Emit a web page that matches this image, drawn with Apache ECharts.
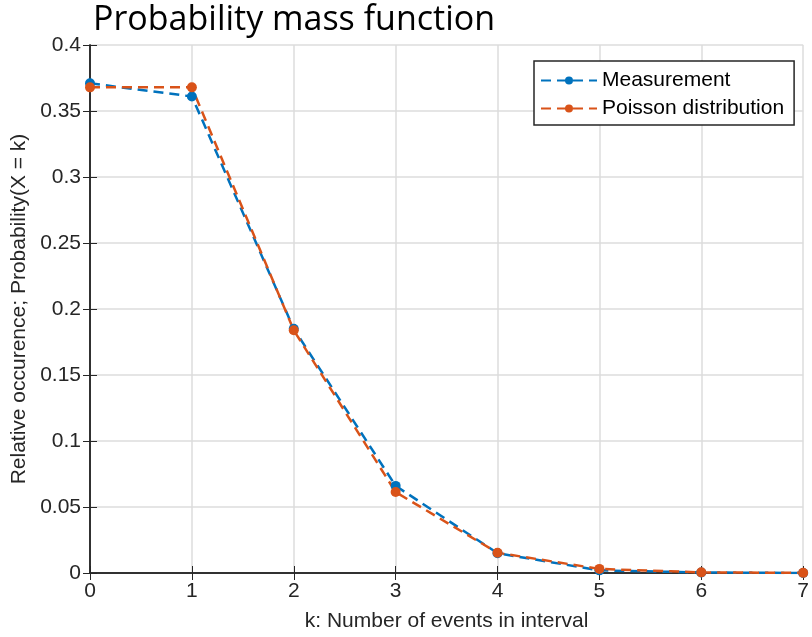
<!DOCTYPE html>
<html>
<head>
<meta charset="utf-8">
<script src="https://cdn.jsdelivr.net/npm/echarts@6/dist/echarts.min.js"></script>
<style>
  html, body { margin: 0; padding: 0; background: #fff; }
  #chart { width: 812px; height: 637px; }
</style>
</head>
<body>
<div id="chart"></div>
<script>
const kValues = [0, 1, 2, 3, 4, 5, 6, 7];
const measurement = [0.371, 0.361, 0.185, 0.066, 0.015, 0.002, 0.0004, 0];
const poisson = [0.3679, 0.3679, 0.1839, 0.0613, 0.0153, 0.0031, 0.0005, 0.0001];

const font = "Liberation Sans, Arial, sans-serif";
const axisColor = "#262626";

const makeSeries = (name, values, color) => ({
  name,
  type: "line",
  xAxisIndex: 0,
  yAxisIndex: 0,
  data: kValues.map((k, i) => [k, values[i]]),
  symbol: "circle",
  symbolSize: 10,
  itemStyle: { color },
  lineStyle: { color, width: 2.5, type: [10, 6] },
});

const chart = echarts.init(document.getElementById("chart"));
chart.setOption({
  animation: false,
  title: {
    text: "Probability mass function",
    left: 88,
    top: -2,
    textStyle: { fontFamily: "Open Sans, sans-serif", fontSize: 34, fontWeight: "normal", color: "#000" },
  },
  grid: { left: 90, top: 45, right: 3, bottom: 64, containLabel: false },
  legend: {
    orient: "vertical",
    left: 534,
    top: 61,
    padding: [9, 10, 6, 6],
    itemGap: 7,
    itemWidth: 56,
    itemHeight: 10,
    borderColor: axisColor,
    borderWidth: 1.5,
    backgroundColor: "#fff",
    textStyle: { fontFamily: font, fontSize: 21, color: "#000" },
    data: ["Measurement", "Poisson distribution"],
  },
  xAxis: [
    {
      type: "value",
      min: 0,
      max: 7,
      interval: 1,
      name: "k: Number of events in interval",
      nameLocation: "middle",
      nameGap: 38,
      nameTextStyle: { fontFamily: font, fontSize: 21, color: axisColor },
      axisLine: { lineStyle: { color: axisColor, width: 1.5 } },
      axisTick: { inside: true, length: 7, lineStyle: { color: axisColor } },
      axisLabel: { fontFamily: font, fontSize: 21, color: axisColor, margin: 8 },
      splitLine: { show: true, lineStyle: { color: "#dcdcdc", width: 1.5 } },
    },
    {
      type: "value",
      position: "top",
      min: 0,
      max: 7,
      interval: 1,
      axisLine: { lineStyle: { color: axisColor, width: 1.5 } },
      axisTick: { inside: true, length: 7, lineStyle: { color: axisColor } },
      axisLabel: { show: false },
      splitLine: { show: false },
    },
  ],
  yAxis: [
    {
      type: "value",
      min: 0,
      max: 0.4,
      interval: 0.05,
      name: "Relative occurence; Probability(X = k)",
      nameLocation: "middle",
      nameGap: 51,
      nameTextStyle: { fontFamily: font, fontSize: 21, color: axisColor },
      axisLine: { show: true, lineStyle: { color: axisColor, width: 1.5 } },
      axisTick: { show: true, inside: true, length: 7, lineStyle: { color: axisColor } },
      axisLabel: { fontFamily: font, fontSize: 21, color: axisColor, margin: 9 },
      splitLine: { show: true, lineStyle: { color: "#dcdcdc", width: 1.5 } },
    },
    {
      type: "value",
      position: "right",
      min: 0,
      max: 0.4,
      interval: 0.05,
      axisLine: { show: true, lineStyle: { color: axisColor, width: 1.5 } },
      axisTick: { show: true, inside: true, length: 7, lineStyle: { color: axisColor } },
      axisLabel: { show: false },
      splitLine: { show: false },
    },
  ],
  series: [
    makeSeries("Measurement", measurement, "#0072BD"),
    makeSeries("Poisson distribution", poisson, "#D95319"),
  ],
});
</script>
</body>
</html>
